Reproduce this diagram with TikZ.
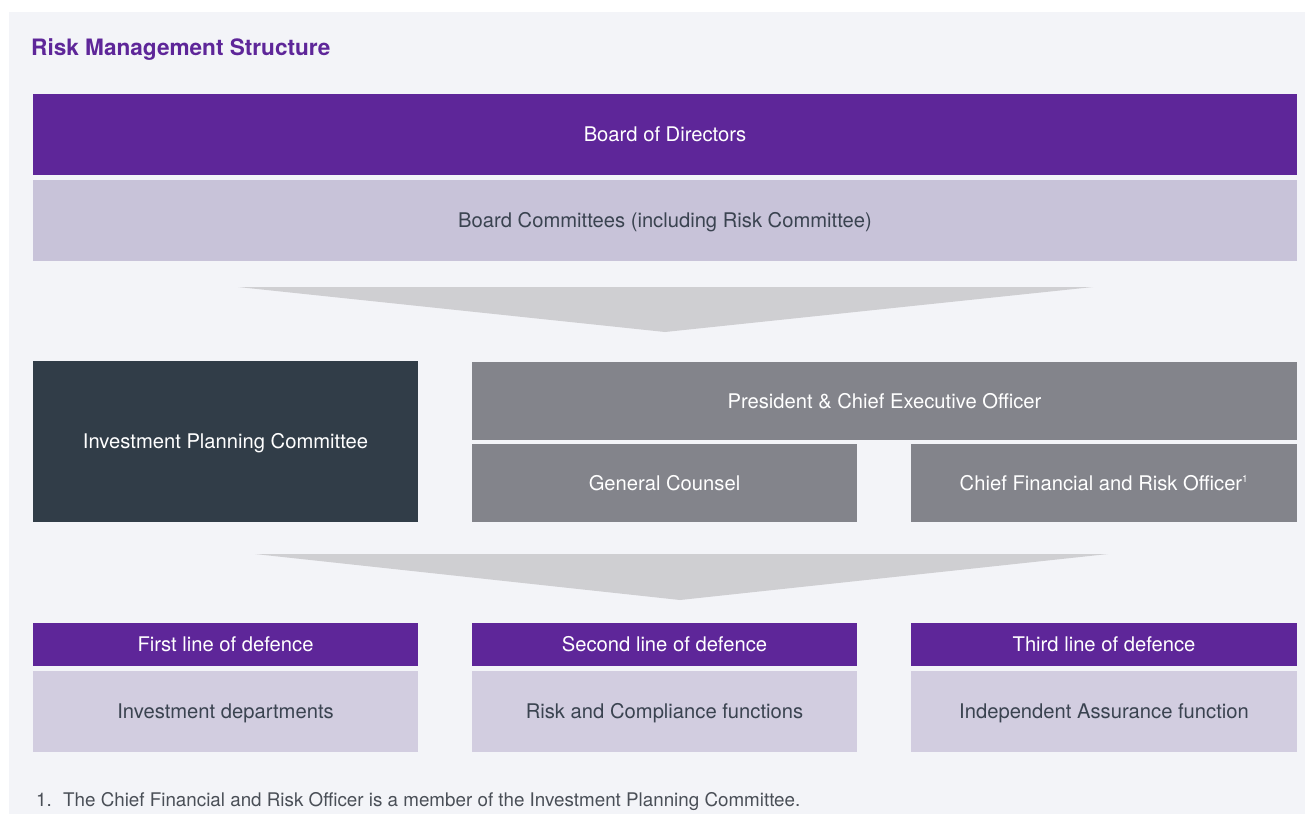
\documentclass[tikz,border=0pt]{standalone}
\usepackage{fontspec}
\setmainfont{TeX Gyre Heros}
\definecolor{bgc}{HTML}{F3F4F8}
\definecolor{purp}{HTML}{5E2699}
\definecolor{lav}{HTML}{C8C3D9}
\definecolor{lavlight}{HTML}{D2CDE0}
\definecolor{slate}{HTML}{313D48}
\definecolor{midgray}{HTML}{83848B}
\definecolor{trigray}{HTML}{CFCFD2}
\definecolor{txt}{HTML}{3A4350}
\definecolor{foot}{HTML}{4A4F57}
\begin{document}
\begin{tikzpicture}[x=1pt,y=-1pt,
  box/.style={draw=none,inner sep=0pt,anchor=center,align=center,text height=14.5pt,text depth=0pt,font=\fontsize{20.2}{24}\selectfont},
  purpbox/.style={box,fill=purp,text=white},
  lavbox/.style={box,fill=lav,text=txt},
  lightbox/.style={box,fill=lavlight,text=txt},
  slatebox/.style={box,fill=slate,text=white},
  graybox/.style={box,fill=midgray,text=white},
  funnel/.style={fill=trigray,draw=none}]
\useasboundingbox (0,0) rectangle (1305,814);
\fill[white] (0,0) rectangle (1305,814);
\fill[bgc] (9,12) rectangle (1305,814);
\node[anchor=base west,text=purp,inner sep=0pt,font=\fontsize{22.6}{26}\selectfont\bfseries] (title) at (31,55) {Risk Management Structure};
\node[purpbox,minimum width=1264,minimum height=81] (board) at (665,134.5) {Board of Directors};
\node[lavbox,minimum width=1264,minimum height=81] (committees) at (665,220.5) {Board Committees (including Risk Committee)};
\fill[funnel] (238,287) -- (1093,287) -- (665,332) -- cycle;
\node[slatebox,minimum width=385,minimum height=161] (ipc) at (225.5,441.5) {Investment Planning Committee};
\node[graybox,minimum width=825,minimum height=78] (ceo) at (884.5,401) {President \& Chief Executive Officer};
\node[graybox,minimum width=385,minimum height=78] (gc) at (664.5,483) {General Counsel};
\node[graybox,minimum width=386,minimum height=78] (cfro) at (1104,483) {Chief Financial and Risk Officer\textsuperscript{\fontsize{10}{11}\selectfont 1}};
\fill[funnel] (255,554) -- (1108,554) -- (680,600) -- cycle;
\node[purpbox,minimum width=385,minimum height=43] (h1) at (225.5,644.5) {First line of defence};
\node[purpbox,minimum width=385,minimum height=43] (h2) at (664.5,644.5) {Second line of defence};
\node[purpbox,minimum width=386,minimum height=43] (h3) at (1104,644.5) {Third line of defence};
\node[lightbox,minimum width=385,minimum height=81] (d1) at (225.5,711.5) {Investment departments};
\node[lightbox,minimum width=385,minimum height=81] (d2) at (664.5,711.5) {Risk and Compliance functions};
\node[lightbox,minimum width=386,minimum height=81] (d3) at (1104,711.5) {Independent Assurance function};
\node[anchor=base west,inner sep=0pt,text=foot,font=\fontsize{18.8}{22}\selectfont] (note) at (36,806.5) {1.\hspace{0.6em}The Chief Financial and Risk Officer is a member of the Investment Planning Committee.};
\end{tikzpicture}
\end{document}
